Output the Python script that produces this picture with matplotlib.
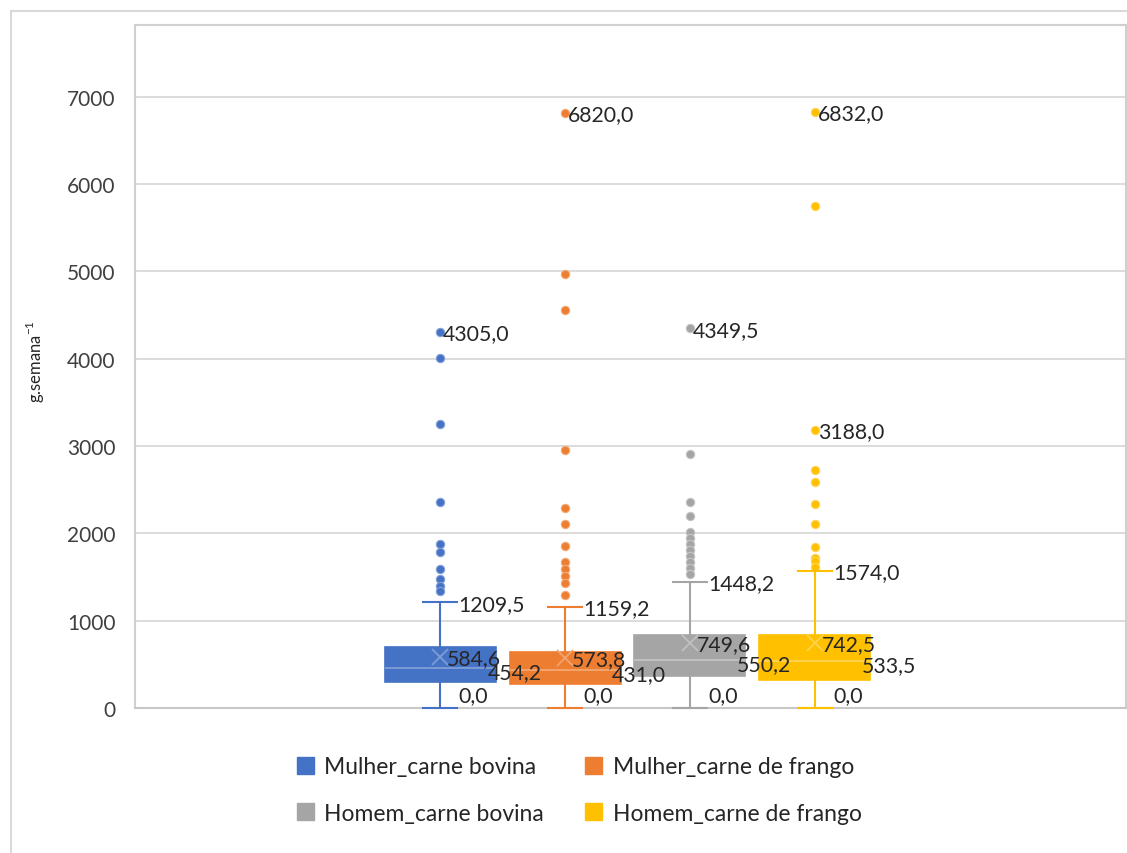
import matplotlib.pyplot as plt
import matplotlib.patches as mpatches
from matplotlib.colors import to_rgb
import numpy as np

# Box statistics (g/semana)
categories = ['Mulher_carne bovina', 'Mulher_carne de frango',
              'Homem_carne bovina', 'Homem_carne de frango']
q1 = [298, 275, 367, 321]
median = [454.2, 431.0, 550.2, 533.5]
q3 = [699, 642, 836, 836]
mean = [584.6, 573.8, 749.6, 742.5]
whisker_low = [0.0, 0.0, 0.0, 0.0]
whisker_high = [1209.5, 1159.2, 1448.2, 1574.0]
outliers = [
    [4305.0, 4010, 3250, 2360, 1880, 1790, 1590, 1480, 1400, 1340],
    [6820.0, 4970, 4560, 2960, 2290, 2110, 1860, 1670, 1590, 1510, 1430, 1290],
    [4349.5, 2910, 2360, 2200, 2020, 1950, 1880, 1810, 1740, 1670, 1600, 1530],
    [6832.0, 5750, 3188.0, 2730, 2590, 2340, 2110, 1840, 1720, 1680, 1620],
]
labelled_outliers = [[4305.0], [6820.0], [4349.5], [6832.0, 3188.0]]
colors = ['#4472C4', '#ED7D31', '#A5A5A5', '#FFC000']
y_ticks = [0, 1000, 2000, 3000, 4000, 5000, 6000, 7000]

plt.rcParams['font.family'] = ['Lato', 'DejaVu Sans']
plt.rcParams['mathtext.fontset'] = 'custom'
plt.rcParams['mathtext.rm'] = 'Lato'


def fmt(v):
    return f'{v:.1f}'.replace('.', ',')


def tint(c, amount):
    r, g, b = to_rgb(c)
    return (r + (1 - r) * amount, g + (1 - g) * amount, b + (1 - b) * amount)


fig = plt.figure(figsize=(11.27, 8.54), dpi=100)
fig.patch.set_facecolor('white')
# outer chart frame (cut at right/bottom like the screenshot)
fig.patches.append(mpatches.Rectangle((11 / 1127, -0.05), 1.2, 1 - 12 / 854 + 0.05,
                                      transform=fig.transFigure, fill=False,
                                      edgecolor='#d9d9d9', linewidth=1.5))

ax = fig.add_axes([135 / 1127, 1 - 709 / 854, 991 / 1127, (709 - 26) / 854])
box_w = 0.112
positions = 0.497 + (np.arange(4) - 1.5) * 0.126

stats = []
for i in range(4):
    stats.append(dict(med=median[i], q1=q1[i], q3=q3[i], mean=mean[i],
                      whislo=whisker_low[i], whishi=whisker_high[i],
                      fliers=outliers[i]))

for i, st in enumerate(stats):
    c = colors[i]
    parts = ax.bxp([st], positions=[positions[i]], widths=box_w, showmeans=True,
                   patch_artist=True, manage_ticks=False, capwidths=0.034,
                   boxprops=dict(facecolor=c, edgecolor=c, linewidth=1.2),
                   whiskerprops=dict(color=c, linewidth=1.5),
                   capprops=dict(color=c, linewidth=1.5),
                   medianprops=dict(color=tint(c, 0.35), linewidth=1.2),
                   meanprops=dict(marker='x', markeredgecolor=tint(c, 0.3),
                                  markersize=11, markeredgewidth=1.3),
                   flierprops=dict(marker='o', markerfacecolor=c,
                                   markeredgecolor=tint(c, 0.35), markersize=6,
                                   markeredgewidth=0.8))
    for art in parts['caps'] + parts['whiskers']:
        art.set_clip_on(False)
        art.set_zorder(4)

lab = dict(fontsize=15.3, color='#262626', va='center', ha='left',
           textcoords='offset points')
for i, x in enumerate(positions):
    ax.annotate(fmt(whisker_high[i]), (x, whisker_high[i]), xytext=(13, -1), **lab)
    ax.annotate(fmt(mean[i]), (x, mean[i]), xytext=(5, -1), **lab)
    ax.annotate(fmt(median[i]), (x + box_w / 2, median[i]), xytext=(-6, -3), **lab)
    ax.annotate(fmt(whisker_low[i]), (x, whisker_low[i]), xytext=(13, 9), **lab)
    for v in labelled_outliers[i]:
        ax.annotate(fmt(v), (x, v), xytext=(2, -1), **lab)

ax.set_xlim(0, 1)
ax.set_ylim(0, 7823)
ax.set_yticks(y_ticks)
ax.set_yticklabels([str(t) for t in y_ticks])
ax.set_xticks([])
ax.tick_params(axis='y', length=0, pad=14, labelsize=15, labelcolor='#404040')
ax.grid(axis='y', color='#d9d9d9', linewidth=1.3)
ax.set_axisbelow(True)
for s in ax.spines.values():
    s.set_color('#d0d0d0')
    s.set_linewidth(1.5)
ax.spines['bottom'].set_color('#c8c8c8')

fig.text(35 / 1127, 1 - 362 / 854, r'g.semana$^{\mathregular{-1}}$', rotation=90,
         ha='center', va='center', fontsize=12, color='#262626')

# legend reads row-wise in the reference: reorder for column filling
order = [0, 2, 1, 3]
handles = [mpatches.Patch(facecolor=colors[k], edgecolor=colors[k]) for k in order]
fig.legend(handles, [categories[k] for k in order], ncol=2, loc='center',
           bbox_to_anchor=(0.514, 1 - 791 / 854), frameon=False,
           fontsize=16.5, labelcolor='#262626', handlelength=0.75,
           handleheight=0.75, handletextpad=0.45, labelspacing=1.1,
           columnspacing=1.8)

fig.savefig('out.png', dpi=100, facecolor='white')
